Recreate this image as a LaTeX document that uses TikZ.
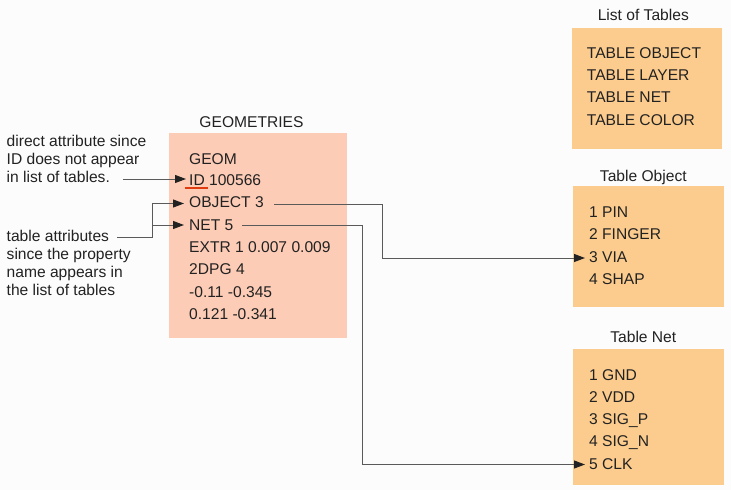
\documentclass[tikz,border=0pt]{standalone}
\usepackage{fontspec}
\setmainfont{Liberation Sans}
\usetikzlibrary{arrows.meta}
\definecolor{bgc}{HTML}{FCFCFC}
\definecolor{geoc}{HTML}{FDCCB6}
\definecolor{tabc}{HTML}{FCCC8E}
\definecolor{textc}{HTML}{222222}
\definecolor{linec}{HTML}{5A5A5A}
\definecolor{tipc}{HTML}{222222}
\definecolor{redc}{HTML}{E03A10}
\begin{document}
\begin{tikzpicture}[x=1pt,y=-1pt,
  txt/.style={anchor=base west, inner sep=0pt, text=textc, font=\fontsize{15.6}{18}\selectfont},
  ttl/.style={anchor=base, inner sep=0pt, text=textc, font=\fontsize{15.6}{18}\selectfont},
  box/.style={anchor=north west, inner sep=0pt, draw=none},
  conn/.style={draw=linec, line width=1pt, -{Triangle[length=11pt,width=8pt,color=tipc]}},
  plain/.style={draw=linec, line width=1pt}]
\useasboundingbox (0,0) rectangle (731,490);
\fill[bgc] (0,0) rectangle (731,490);

% boxes
\node[box, fill=geoc, minimum width=178pt, minimum height=205pt] (geo) at (169,133) {};
\node[box, fill=tabc, minimum width=150pt, minimum height=121pt] (lot) at (572,27.3) {};
\node[box, fill=tabc, minimum width=151pt, minimum height=121pt] (tobj) at (573,186) {};
\node[box, fill=tabc, minimum width=151pt, minimum height=136pt] (tnet) at (573,349) {};

% titles
\node[ttl] (geot) at (251.5,127) {GEOMETRIES};
\node[ttl] (lott) at (643.3,20.5) {List of Tables};
\node[ttl] (tobjt) at (643.3,181.7) {Table Object};
\node[ttl] (tnett) at (643.3,342.7) {Table Net};

% geometries text
\node[txt] (g1) at (189,164) {GEOM};
\node[txt] (g2) at (189,185.5) {ID 100566};
\node[txt] (g3) at (189,207.5) {OBJECT 3};
\node[txt] (g4) at (189,230) {NET 5};
\node[txt] (g5) at (189,252.5) {EXTR 1 0.007 0.009};
\node[txt] (g6) at (189,274.8) {2DPG 4};
\node[txt] (g7) at (189,297.2) {-0.11 -0.345};
\node[txt] (g8) at (189,319.6) {0.121 -0.341};

% underline
\coordinate (ul1) at (185,187.7);
\coordinate (ul2) at (208,187.7);
\draw[redc, line width=2pt] (ul1) -- (ul2);

% list of tables
\node[txt] (l1) at (586.7,58.3) {TABLE OBJECT};
\node[txt] (l2) at (586.7,80.5) {TABLE LAYER};
\node[txt] (l3) at (586.7,102.8) {TABLE NET};
\node[txt] (l4) at (586.7,125) {TABLE COLOR};

% table object
\node[txt] (o1) at (589,217.3) {1 PIN};
\node[txt] (o2) at (589,239.7) {2 FINGER};
\node[txt] (o3) at (589,262.2) {3 VIA};
\node[txt] (o4) at (589,284.4) {4 SHAP};

% table net
\node[txt] (n1) at (589,380) {1 GND};
\node[txt] (n2) at (589,402) {2 VDD};
\node[txt] (n3) at (589,424.5) {3 SIG\_P};
\node[txt] (n4) at (589,446.8) {4 SIG\_N};
\node[txt] (n5) at (589,469.3) {5 CLK};

% left notes
\node[txt] (d1) at (6.5,146) {direct attribute since};
\node[txt] (d2) at (6.5,164) {ID does not appear};
\node[txt] (d3) at (6.5,182) {in list of tables.};
\node[txt] (a1) at (6.5,241) {table attributes};
\node[txt] (a2) at (6.5,259) {since the property};
\node[txt] (a3) at (6.5,277) {name appears in};
\node[txt] (a4) at (6.5,295) {the list of tables};

% connector points
\coordinate (ids) at (123,179);
\coordinate (idt) at (186,179);
\coordinate (tas) at (117,237);
\coordinate (taj) at (152,237);
\coordinate (tan) at (152,225);
\coordinate (objt) at (184,203.5);
\coordinate (nett) at (184,225);
\coordinate (objs) at (274,204);
\coordinate (objturn) at (382,258);
\coordinate (via) at (585,258);
\coordinate (nets) at (242,225);
\coordinate (netturn) at (362,464.5);
\coordinate (clk) at (585,464.5);

\draw[conn] (ids) -- (idt);
\draw[conn] (tas) -- (taj) |- (objt);
\draw[conn] (tan) -- (nett);
\draw[conn] (objs) -| (objturn) -- (via);
\draw[conn] (nets) -| (netturn) -- (clk);
\end{tikzpicture}
\end{document}
